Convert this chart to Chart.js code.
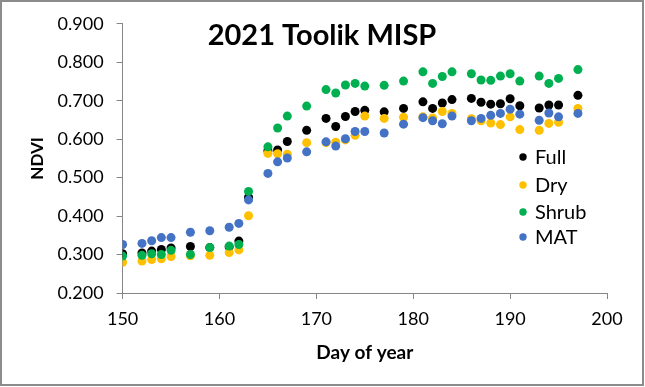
<!DOCTYPE html>
<html><head><meta charset="utf-8">
<script src="https://cdn.jsdelivr.net/npm/chart.js@4.4.0/dist/chart.umd.min.js"></script>
<style>html,body{margin:0;padding:0;background:#fff}canvas{display:block}</style>
</head><body>
<canvas id="c" width="645" height="387"></canvas>
<script>
const days = [150,152,153,154,155,157,159,161,162,163,165,166,167,169,171,172,173,174,175,177,179,181,182,183,184,186,187,188,189,190,191,193,194,195,197];
const fullVals  = [0.302,0.304,0.309,0.313,0.317,0.321,0.318,0.320,0.335,0.449,0.570,0.572,0.594,0.623,0.654,0.633,0.659,0.672,0.675,0.671,0.680,0.697,0.680,0.694,0.703,0.706,0.696,0.691,0.692,0.705,0.687,0.681,0.689,0.689,0.714];
const dryVals   = [0.280,0.283,0.287,0.289,0.295,0.297,0.298,0.305,0.312,0.401,0.563,0.562,0.561,0.591,0.591,0.592,0.598,0.610,0.660,0.654,0.657,0.658,0.655,0.672,0.667,0.653,0.648,0.642,0.638,0.658,0.625,0.623,0.641,0.644,0.680];
const shrubVals = [0.296,0.298,0.302,0.300,0.311,0.300,0.318,0.322,0.326,0.464,0.580,0.629,0.660,0.686,0.729,0.720,0.741,0.745,0.738,0.740,0.751,0.775,0.745,0.763,0.775,0.770,0.754,0.753,0.764,0.770,0.751,0.764,0.745,0.758,0.781];
const matVals   = [0.326,0.329,0.336,0.344,0.344,0.358,0.362,0.371,0.381,0.442,0.511,0.541,0.551,0.567,0.593,0.582,0.601,0.620,0.620,0.616,0.639,0.656,0.648,0.640,0.660,0.648,0.654,0.662,0.667,0.678,0.665,0.649,0.668,0.658,0.667];
const seriesNames = ['Full','Dry','Shrub','MAT'];
const seriesColors = ['#000000','#FFC000','#00B050','#4472C4'];
const xTicks = [150,160,170,180,190,200];
const yTicks = [0.2,0.3,0.4,0.5,0.6,0.7,0.8,0.9];
const chartTitle = '2021 Toolik MISP';

const FONT = 'Lato, "Open Sans", sans-serif';
const allVals = [fullVals, dryVals, shrubVals, matVals];
const datasets = allVals.map((vals, i) => ({
  label: seriesNames[i],
  data: days.map((d, j) => ({x: d, y: vals[j]})),
  backgroundColor: seriesColors[i],
  borderColor: seriesColors[i],
  pointRadius: 4.5,
  pointBorderWidth: 0,
  order: 4 - i
}));

const overlay = {
  id: 'overlay',
  beforeDraw(chart) {
    const ctx = chart.ctx;
    ctx.save();
    ctx.fillStyle = '#fff';
    ctx.fillRect(0, 0, chart.width, chart.height);
    ctx.restore();
  },
  afterDraw(chart) {
    const ctx = chart.ctx;
    ctx.save();
    ctx.strokeStyle = '#8c8c8c';
    ctx.lineWidth = 2;
    ctx.strokeRect(1, 1, 642, 384);
    ctx.fillStyle = '#000';
    ctx.font = 'bold 29px ' + FONT;
    ctx.textAlign = 'center';
    ctx.textBaseline = 'alphabetic';
    ctx.fillText(chartTitle, 322, 45);
    ctx.font = '20px ' + FONT;
    ctx.textAlign = 'left';
    ctx.textBaseline = 'middle';
    const rows = [157, 185, 212, 237];
    seriesNames.forEach((n, i) => {
      ctx.fillStyle = seriesColors[i];
      ctx.beginPath();
      ctx.arc(523, rows[i], 3.7, 0, Math.PI * 2);
      ctx.fill();
      ctx.fillStyle = '#000';
      ctx.fillText(n, 535, rows[i] + 1);
    });
    ctx.restore();
  }
};

new Chart(document.getElementById('c'), {
  type: 'scatter',
  data: { datasets },
  plugins: [overlay],
  options: {
    responsive: false,
    devicePixelRatio: 1,
    animation: false,
    layout: { padding: { left: 0, right: 38, top: 23, bottom: 0 } },
    plugins: { legend: { display: false }, tooltip: { enabled: false }, title: { display: false } },
    scales: {
      x: {
        type: 'linear', min: 150, max: 200,
        afterBuildTicks: s => { s.ticks = xTicks.map(v => ({value: v})); },
        afterFit: s => { s.height = 94; },
        grid: { display: true, drawOnChartArea: false, drawTicks: true, tickLength: 6, color: '#868686' },
        border: { display: true, color: '#868686', width: 1 },
        ticks: { font: { family: FONT, size: 18 }, color: '#000', padding: 9, maxRotation: 0 },
        title: { display: true, text: 'Day of year', font: { family: FONT, size: 19, weight: 'bold' }, color: '#000', padding: { top: 0, bottom: 23 } }
      },
      y: {
        type: 'linear', min: 0.2, max: 0.9,
        afterBuildTicks: s => { s.ticks = yTicks.map(v => ({value: v})); },
        afterFit: s => { s.width = 122.6; },
        grid: { display: true, drawOnChartArea: false, drawTicks: true, tickLength: 6, color: '#868686' },
        border: { display: true, color: '#868686', width: 1 },
        ticks: { font: { family: FONT, size: 18 }, color: '#000', padding: 13, callback: v => Number(v).toFixed(3) },
        title: { display: true, text: 'NDVI', font: { family: FONT, size: 17, weight: 'bold' }, color: '#000', padding: { top: 27, bottom: 0 } }
      }
    }
  }
});
</script>
</body></html>
